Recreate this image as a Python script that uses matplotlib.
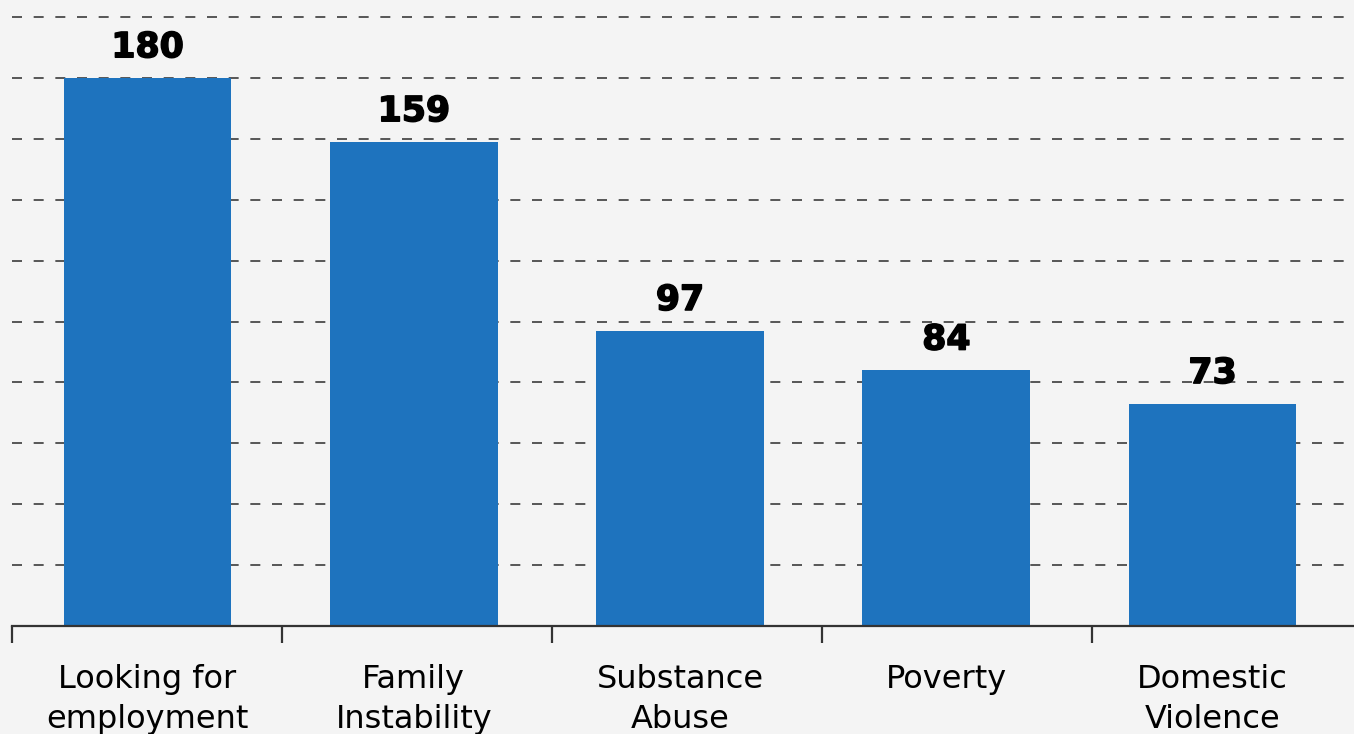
import matplotlib.pyplot as plt
import matplotlib.patheffects as pe
import numpy as np

categories = ["Looking for\nemployment", "Family\nInstability", "Substance\nAbuse", "Poverty", "Domestic\nViolence"]
values = [180, 159, 97, 84, 73]
grid_levels = [20, 40, 60, 80, 100, 120, 140, 160, 180, 200]

BAR_COLOR = "#1E73BE"
BG_COLOR = "#F4F4F4"

fig = plt.figure(figsize=(13.54, 7.34), dpi=100, facecolor=BG_COLOR)
ax = fig.add_axes([0, 0.147, 1, 0.853])
ax.set_facecolor(BG_COLOR)

x = np.arange(len(values))

# dashed guide lines behind the bars
ax.hlines(grid_levels, -0.51, 4.6, colors="#3c3c3c", linewidth=1.2,
          linestyles=(0, (6, 7)), zorder=1)

ax.bar(x, values, width=0.63, color=BAR_COLOR, zorder=2)

for xi, v in zip(x, values):
    ax.text(xi, v + 4.5, str(v), ha="center", va="bottom", fontsize=25,
            fontweight="bold", family="DejaVu Sans", color="black",
            path_effects=[pe.withStroke(linewidth=1.1, foreground="black")])

ax.set_xlim(-0.554, 4.531)
ax.set_ylim(0, 205.6)

ax.set_xticks(x)
ax.set_xticklabels(categories, fontsize=23, family="DejaVu Sans",
                   linespacing=1.4)
# category separators sit slightly off the half-way points, as in the source
ax.set_xticks(x * 1.014 - 0.509, minor=True)
ax.tick_params(axis="x", which="major", length=0, pad=27)
ax.tick_params(axis="x", which="minor", length=12, width=1.6, color="#333333")
ax.set_yticks([])

for side in ["top", "left", "right"]:
    ax.spines[side].set_visible(False)
ax.spines["bottom"].set_color("#333333")
ax.spines["bottom"].set_linewidth(1.6)
ax.spines["bottom"].set_bounds(-0.51, 4.6)

plt.savefig("out.png", dpi=100, facecolor=BG_COLOR)
plt.close()
